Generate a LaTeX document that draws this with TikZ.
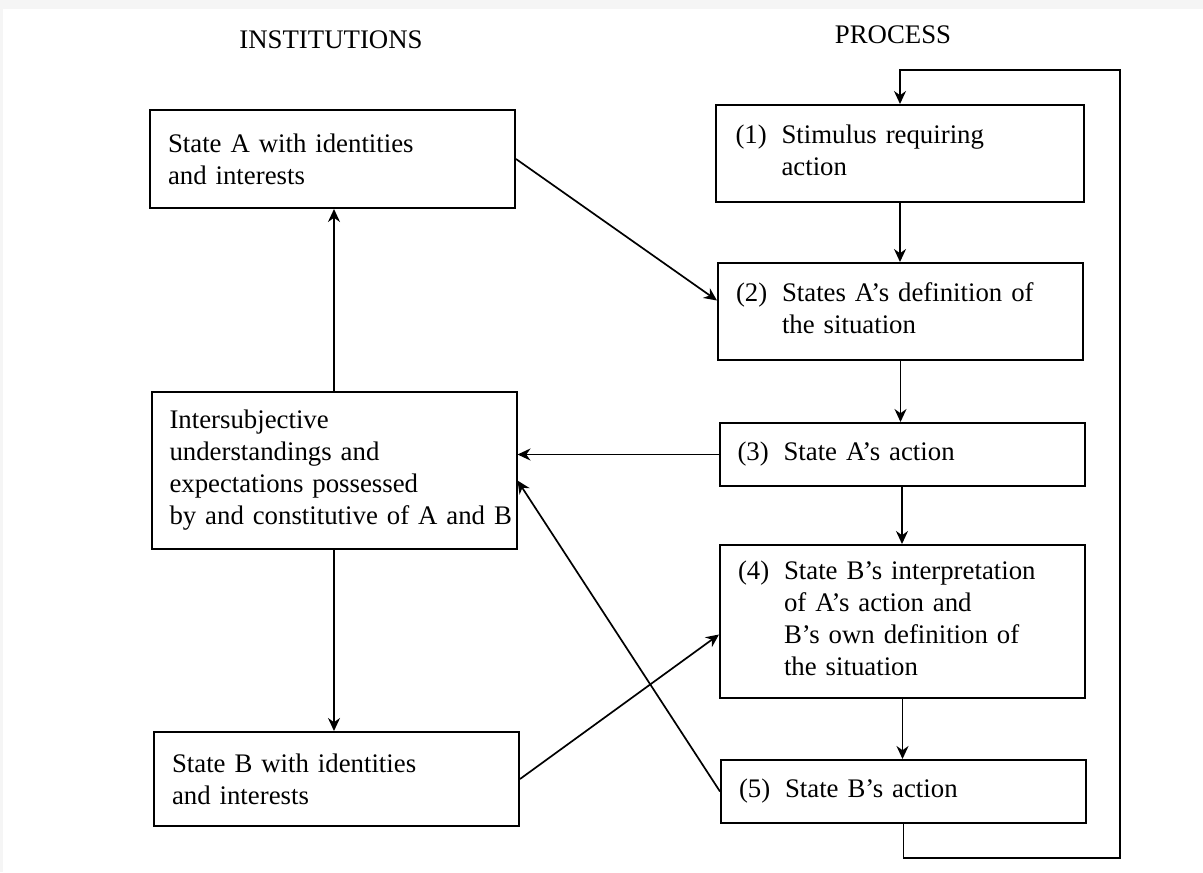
\documentclass[tikz,border=0pt]{standalone}
\usepackage{fontspec}
\setmainfont{Liberation Serif}
\usetikzlibrary{arrows.meta,calc}
\begin{document}
\begin{tikzpicture}[x=0.5pt,y=-0.5pt,
  box/.style={draw,line width=1pt,rectangle,inner xsep=9pt,inner ysep=0pt,
    minimum width=182.5pt,text width=164.5pt,align=left,
    font=\fontsize{13.4}{16}\selectfont},
  head/.style={font=\fontsize{13.4}{16}\selectfont},
  arr/.style={-{Stealth[length=6.5pt,width=6pt]},line width=0.85pt}]
\useasboundingbox (0,0) rectangle (1203,872);
\fill[white] (0,0) rectangle (1203,872);
\fill[gray!8] (0,0) rectangle (1203,9);
\fill[gray!8] (0,0) rectangle (3,872);
% headers
\node[head] (hI) at (331,40) {INSTITUTIONS};
\node[head] (hP) at (893,35) {PROCESS};
% left column
\node[box,minimum height=49pt] (A) at (332.5,159) {State A with identities\\and interests};
\node[box,minimum height=78.5pt] (I) at (334,470.5) {Intersubjective\\understandings and\\expectations possessed\\\mbox{by and constitutive of A and B}};
\node[box,minimum height=47pt] (B) at (336.5,779) {State B with identities\\and interests};
% right column
\node[box,minimum width=184pt,minimum height=48.5pt] (b1) at (900,153.5)
  {\begin{tabular}{@{}p{23pt}@{}l@{}}(1)&Stimulus requiring\\&action\end{tabular}};
\node[box,minimum height=48.5pt] (b2) at (900.5,311.5)
  {\begin{tabular}{@{}p{23pt}@{}l@{}}(2)&States A’s definition of\\&the situation\end{tabular}};
\node[box,minimum height=31.5pt] (b3) at (902,454.5)
  {\begin{tabular}{@{}p{23pt}@{}l@{}}(3)&State A’s action\end{tabular}};
\node[box,minimum height=76.5pt] (b4) at (902.5,621.5)
  {\begin{tabular}{@{}p{23pt}@{}l@{}}(4)&State B’s interpretation\\&of A’s action and\\&B’s own definition of\\&the situation\end{tabular}};
\node[box,minimum height=31.5pt] (b5) at (903.5,791.5)
  {\begin{tabular}{@{}p{23pt}@{}l@{}}(5)&State B’s action\end{tabular}};
% loop corners
\coordinate (lr) at (1120,858);
\coordinate (ur) at (1120,70);
% connectors
\draw[arr] (I.north) -- (I.north |- A.south);
\draw[arr] (I.south) -- (I.south |- B.north);
\draw[arr] (A.east) -- ([yshift=5.5pt]b2.west);
\draw[arr] (b3.west) -- (b3.west -| I.east);
\draw[arr] (b5.west) -- ([yshift=-5pt]I.east);
\draw[arr] (B.east) -- ([yshift=-6.5pt]b4.west);
\draw[arr] (b1.south) -- (b1.south |- b2.north);
\draw[arr] (b2.south) -- (b2.south |- b3.north);
\draw[arr] (b3.south) -- (b3.south |- b4.north);
\draw[arr] (b4.south) -- (b4.south |- b5.north);
\draw[arr] (b5.south) -- (b5.south |- lr) -- (lr) -- (ur) -- (ur -| b1.north) -- (b1.north);
\end{tikzpicture}
\end{document}
